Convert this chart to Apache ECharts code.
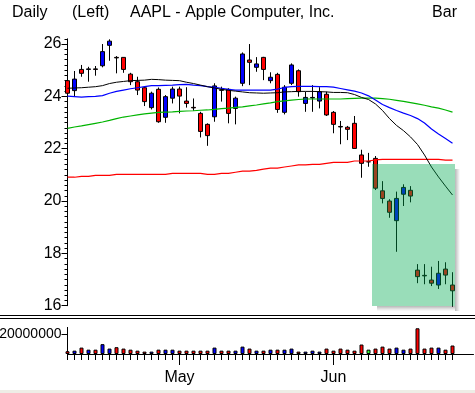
<!DOCTYPE html>
<html><head><meta charset="utf-8">
<script src="https://cdn.jsdelivr.net/npm/echarts@6/dist/echarts.min.js"></script>
<style>html,body{margin:0;padding:0;background:#fff}#c{width:475px;height:393px}</style>
</head><body><div id="c"></div>
<script>
// ---- DATA ----
const dates = ['2002-04-09','2002-04-10','2002-04-11','2002-04-12','2002-04-15','2002-04-16','2002-04-17','2002-04-18','2002-04-19','2002-04-22','2002-04-23','2002-04-24','2002-04-25','2002-04-26','2002-04-29','2002-04-30',
'2002-05-01','2002-05-02','2002-05-03','2002-05-06','2002-05-07','2002-05-08','2002-05-09','2002-05-10','2002-05-13','2002-05-14','2002-05-15','2002-05-16','2002-05-17','2002-05-20','2002-05-21','2002-05-22','2002-05-23','2002-05-24','2002-05-28','2002-05-29','2002-05-30','2002-05-31',
'2002-06-03','2002-06-04','2002-06-05','2002-06-06','2002-06-07','2002-06-10','2002-06-11','2002-06-12','2002-06-13','2002-06-14','2002-06-17','2002-06-18','2002-06-19','2002-06-20','2002-06-21','2002-06-24','2002-06-25','2002-06-26'];
const openP  = [24.60,24.22,25.03,25.03,25.05,25.17,25.95,25.49,25.49,24.85,24.56,24.33,23.57,24.27,23.20,23.93,24.28,23.82,23.58,23.35,22.93,23.22,24.25,24.27,23.54,24.50,25.39,25.11,25.49,24.60,24.84,23.39,24.50,24.98,23.73,23.94,23.82,24.08,23.39,22.85,22.82,22.97,21.76,21.50,21.63,20.39,20.00,19.25,20.26,20.41,17.36,17.16,16.98,16.79,17.40,16.79];
const closeP = [24.12,24.66,24.88,25.05,25.03,25.71,26.11,25.47,25.03,24.56,24.24,23.80,24.12,23.03,23.99,24.28,24.01,23.73,23.56,22.66,22.50,24.40,24.23,23.35,23.93,25.62,25.30,25.24,25.03,24.73,23.50,24.35,25.20,24.18,23.96,23.96,24.18,23.29,22.93,22.83,22.74,22.01,21.44,21.50,20.49,20.10,19.57,20.10,20.52,20.19,17.11,17.14,16.86,17.24,17.17,16.57];
const lowP   = [24.05,23.99,24.75,24.56,24.79,25.11,25.36,24.88,24.90,24.43,24.05,23.63,23.50,22.99,22.99,23.73,23.35,23.57,23.45,22.43,22.11,23.03,23.80,22.97,22.93,24.39,24.43,24.94,24.62,24.50,23.37,23.31,24.43,23.99,23.41,23.41,23.54,23.25,22.59,22.17,22.33,22.01,20.89,21.31,20.42,19.91,19.36,18.06,19.81,19.95,16.86,16.82,16.75,16.64,16.82,15.96];
const highP  = [25.00,24.97,25.20,25.13,25.16,26.00,26.18,25.54,25.50,24.90,24.75,24.37,24.18,24.34,24.05,24.37,24.37,24.35,23.92,23.41,22.97,24.50,24.37,24.31,23.99,25.68,26.00,25.50,25.51,24.92,24.90,24.43,25.26,25.03,24.18,24.43,24.35,24.18,23.44,23.06,22.87,23.25,21.96,21.84,21.72,20.76,20.07,20.36,20.64,20.57,17.59,17.59,17.49,17.71,17.66,17.28];
const volume = [2800000,3400000,6500000,4400000,4400000,10000000,5500000,6900000,5500000,4400000,3400000,2400000,2400000,4400000,4400000,4400000,3400000,3400000,3400000,3400000,3400000,6500000,3400000,3400000,3400000,7500000,5500000,3400000,3400000,4400000,4400000,4400000,5500000,2400000,2400000,3400000,2400000,5500000,3400000,5500000,4400000,3400000,9600000,4400000,5500000,7500000,5500000,6500000,4400000,5500000,26100000,5500000,6500000,6500000,4400000,8600000];
const maBlack = [24.31,24.32,24.33,24.35,24.37,24.41,24.49,24.54,24.57,24.60,24.61,24.62,24.65,24.64,24.62,24.61,24.60,24.54,24.49,24.43,24.37,24.32,24.27,24.23,24.20,24.17,24.14,24.13,24.12,24.13,24.14,24.17,24.18,24.19,24.19,24.19,24.18,24.17,24.15,24.15,24.14,24.07,23.96,23.88,23.71,23.46,23.15,22.89,22.69,22.45,22.16,21.76,21.30,20.92,20.57,20.23];
const maBlue  = [24.01,23.99,23.97,23.99,24.00,24.03,24.12,24.19,24.24,24.29,24.33,24.37,24.41,24.41,24.42,24.43,24.45,24.46,24.43,24.41,24.37,24.34,24.31,24.27,24.24,24.24,24.24,24.24,24.24,24.24,24.28,24.34,24.37,24.38,24.38,24.38,24.37,24.37,24.35,24.30,24.25,24.20,24.13,24.02,23.86,23.69,23.57,23.46,23.36,23.27,23.15,22.98,22.75,22.56,22.39,22.21];
const maGreen = [22.78,22.83,22.87,22.92,22.97,23.02,23.08,23.15,23.21,23.25,23.29,23.33,23.36,23.39,23.40,23.41,23.43,23.44,23.45,23.47,23.48,23.50,23.53,23.55,23.58,23.60,23.64,23.67,23.71,23.75,23.80,23.83,23.86,23.88,23.90,23.90,23.90,23.90,23.90,23.90,23.91,23.92,23.93,23.93,23.93,23.91,23.89,23.85,23.81,23.76,23.71,23.66,23.60,23.55,23.48,23.40];
const maRed   = [20.91,20.91,20.94,20.94,20.98,20.98,20.98,21.02,21.02,21.02,21.02,21.02,21.02,21.02,21.02,21.06,21.06,21.06,21.06,21.06,21.02,21.02,21.06,21.06,21.10,21.14,21.14,21.17,21.22,21.26,21.26,21.30,21.34,21.38,21.38,21.40,21.40,21.44,21.48,21.48,21.48,21.53,21.53,21.53,21.57,21.59,21.59,21.59,21.59,21.59,21.59,21.59,21.59,21.59,21.56,21.56];
const priceTicks = [16,18,20,22,24,26];
const volumeTicks = [20000000];
const monthNames = ['Jan','Feb','Mar','Apr','May','Jun','Jul','Aug','Sep','Oct','Nov','Dec'];
const zoneStart = 43, zoneEnd = 55, zoneTop = 21.4, zoneBottom = 16.0;

// ---- BUILD ----
const FONT = 'Liberation Sans';
const n = dates.length;
const cats = dates.concat(['', '', '']);
const candles = dates.map((d, i) => [openP[i], closeP[i], lowP[i], highP[i]]);
const volData = volume.map((v, i) => ({
  value: v,
  itemStyle: { color: closeP[i] > openP[i] ? '#0000ff' : (closeP[i] < openP[i] ? '#ff0000' : '#33ff33') }
}));
const isMonthStart = (i) => i > 0 && i < n && dates[i].slice(5, 7) !== dates[i - 1].slice(5, 7);

const chart = echarts.init(document.getElementById('c'), null, { renderer: 'canvas' });
const gridL = 67.5, gridW = 406;
const titleStyle = { fontFamily: FONT, fontSize: 16, fontWeight: 'normal', color: '#000' };
chart.setOption({
  animation: false,
  backgroundColor: '#fff',
  title: [
    { text: 'Daily', left: 7, top: 0, textStyle: titleStyle },
    { text: '(Left)', left: 67, top: 0, textStyle: titleStyle },
    { text: 'AAPL - Apple Computer, Inc.', left: 125, top: 0, textStyle: titleStyle },
    { text: 'Bar', right: 13, top: 0, textStyle: titleStyle }
  ],
  grid: [
    { left: gridL, width: gridW, top: 38.8, height: 266.9, containLabel: false, outerBoundsMode: 'none' },
    { left: gridL, width: gridW, top: 327.4, height: 26.6, containLabel: false, outerBoundsMode: 'none' }
  ],
  xAxis: [
    { gridIndex: 0, type: 'category', data: cats, boundaryGap: false, show: false },
    { gridIndex: 1, type: 'category', data: cats, boundaryGap: false,
      axisLine: { show: true, lineStyle: { color: '#000', width: 1 } },
      axisTick: { show: true, length: 6, interval: (i) => i < n, lineStyle: { color: '#000' } },
      axisLabel: { show: false }, splitLine: { show: false } },
    { gridIndex: 1, type: 'category', data: cats, boundaryGap: false, position: 'bottom',
      axisLine: { show: false },
      axisTick: { show: true, length: 11, interval: (i) => isMonthStart(i), lineStyle: { color: '#000' } },
      axisLabel: { show: true, interval: (i) => isMonthStart(i), margin: 16, color: '#000', fontFamily: FONT, fontSize: 16,
        formatter: (v) => v ? monthNames[parseInt(v.slice(5, 7), 10) - 1] : '' },
      splitLine: { show: false } }
  ],
  yAxis: [
    { gridIndex: 0, type: 'value', min: 16, max: 26.2, interval: 2,
      axisLine: { show: true, lineStyle: { color: '#000' } },
      axisTick: { show: true, length: 6, customValues: priceTicks, lineStyle: { color: '#000' } },
      axisLabel: { show: true, customValues: priceTicks, margin: 6, color: '#000', fontFamily: FONT, fontSize: 16 },
      splitLine: { show: false } },
    { gridIndex: 0, type: 'value', min: 16, max: 26.2, interval: 0.2, position: 'left',
      axisLine: { show: false },
      axisTick: { show: true, length: 3, lineStyle: { color: '#000' } },
      axisLabel: { show: false }, splitLine: { show: false } },
    { gridIndex: 1, type: 'value', min: 0, max: 27000000,
      axisLine: { show: true, lineStyle: { color: '#000' } },
      axisTick: { show: true, length: 6, customValues: volumeTicks, lineStyle: { color: '#000' } },
      axisLabel: { show: true, customValues: volumeTicks, margin: 6, color: '#000', fontFamily: FONT, fontSize: 14,
        formatter: (v) => String(Math.round(v)) },
      splitLine: { show: false } }
  ],
  series: [
    { type: 'candlestick', xAxisIndex: 0, yAxisIndex: 0, data: candles, barWidth: 4, clip: false,
      itemStyle: { color: '#0000ff', color0: '#ff0000', borderColor: '#000', borderColor0: '#000', borderColorDoji: '#000', borderWidth: 1 },
      z: 2 },
    { type: 'line', xAxisIndex: 0, yAxisIndex: 0, data: maRed, symbol: 'none', lineStyle: { color: '#ff0000', width: 1.2 }, z: 3 },
    { type: 'line', xAxisIndex: 0, yAxisIndex: 0, data: maGreen, symbol: 'none', lineStyle: { color: '#00b400', width: 1.2 }, z: 3 },
    { type: 'line', xAxisIndex: 0, yAxisIndex: 0, data: maBlue, symbol: 'none', lineStyle: { color: '#0000ff', width: 1.2 }, z: 3 },
    { type: 'line', xAxisIndex: 0, yAxisIndex: 0, data: maBlack, symbol: 'none', lineStyle: { color: '#000', width: 1 }, z: 3 },
    { type: 'bar', xAxisIndex: 1, yAxisIndex: 2, data: volData, barWidth: 4,
      itemStyle: { borderColor: '#000', borderWidth: 1 } }
  ]
});

// shaded zone overlay + separators, positioned from data coordinates
const px = (i) => chart.convertToPixel({ xAxisIndex: 0 }, i);
const py = (v) => chart.convertToPixel({ yAxisIndex: 0 }, v);
const zx0 = Math.round((px(zoneStart) + px(zoneStart + 1)) / 2);
const zx1 = Math.round(px(zoneEnd) + 2);
const zy0 = Math.round(py(zoneTop)), zy1 = Math.round(py(zoneBottom));
const sepY = Math.round((py(16) + chart.convertToPixel({ yAxisIndex: 2 }, 27000000)) / 2);
const sh = 5;
chart.setOption({
  graphic: [
    { type: 'rect', z: 99, shape: { x: zx1, y: zy0 + sh, width: sh, height: zy1 - zy0 },
      style: { fill: new echarts.graphic.LinearGradient(0, 0, 1, 0, [{ offset: 0, color: 'rgba(0,0,0,0.28)' }, { offset: 1, color: 'rgba(0,0,0,0)' }]) } },
    { type: 'rect', z: 99, shape: { x: zx0 + sh, y: zy1, width: zx1 - zx0 - sh, height: sh },
      style: { fill: new echarts.graphic.LinearGradient(0, 0, 0, 1, [{ offset: 0, color: 'rgba(0,0,0,0.28)' }, { offset: 1, color: 'rgba(0,0,0,0)' }]) } },
    { type: 'rect', z: 100, shape: { x: zx0, y: zy0, width: zx1 - zx0, height: zy1 - zy0 },
      style: { fill: 'rgba(0,170,80,0.4)' } },
    { type: 'line', z: 100, shape: { x1: 0, y1: sepY - 1.5, x2: 475, y2: sepY - 1.5 }, style: { stroke: '#000', lineWidth: 1 } },
    { type: 'line', z: 100, shape: { x1: 0, y1: sepY + 1.5, x2: 475, y2: sepY + 1.5 }, style: { stroke: '#000', lineWidth: 1 } },
    { type: 'rect', z: 100, shape: { x: 0, y: 390, width: 475, height: 3 }, style: { fill: '#eeede6' } }
  ]
});
</script></body></html>
